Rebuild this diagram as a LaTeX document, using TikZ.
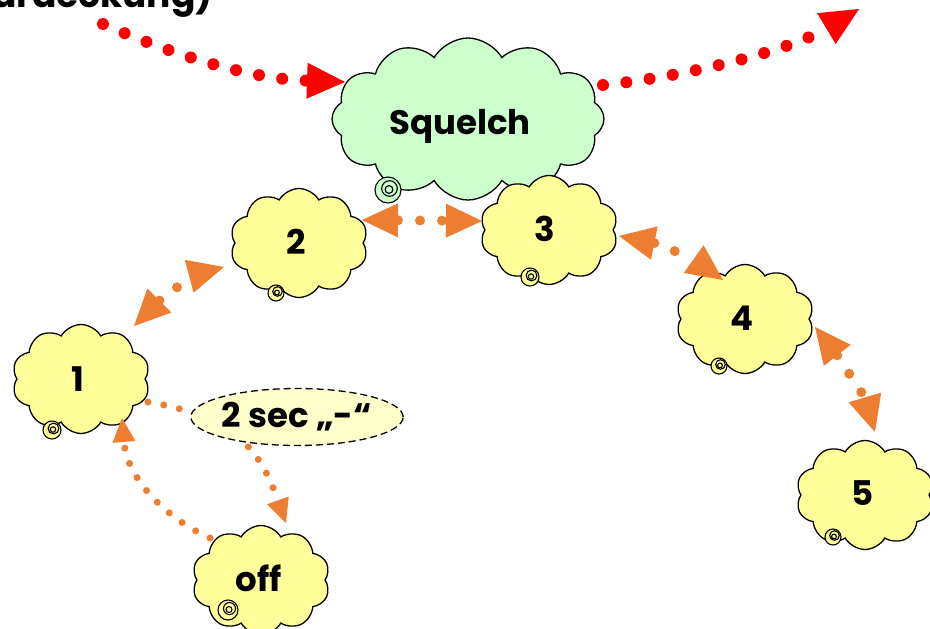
\documentclass[tikz,border=0pt]{standalone}
\usepackage{fontspec}
\setmainfont{Poppins}
\usetikzlibrary{shapes.symbols,shapes.geometric,arrows.meta,calc}
\definecolor{cloudyellow}{HTML}{FFFF99}
\definecolor{cloudgreen}{HTML}{CCFFCC}
\definecolor{lblfill}{HTML}{FFFFCC}
\definecolor{arrorange}{HTML}{ED7D31}
\definecolor{arrred}{HTML}{FF0000}
\newcommand{\mytail}[4]{%
  \draw[line width=1.1pt, fill=#4] (#1,#2) circle[radius=#3 pt];
  \draw[line width=1.1pt] ($(#1,#2)+(1.5,-1.5)$) circle[radius={0.6*#3 pt}];
  \draw[line width=1.1pt] ($(#1,#2)+(1,-0.5)$) circle[radius={0.3*#3 pt}];
}
\newcommand{\shifttext}[3]{\hspace*{#1}\raisebox{#2}{#3}}
\begin{document}
\begin{tikzpicture}[x=1pt,y=-1pt,
  cloudbox/.style={cloud, cloud ignores aspect, draw=black, line width=1.3pt, fill=cloudyellow,
     cloud puffs=10, cloud puff arc=120, minimum width=138pt, minimum height=109pt,
     inner sep=0pt, font=\bfseries\fontsize{34}{38}\selectfont},
  bigcloud/.style={cloudbox, fill=cloudgreen, cloud puffs=12, minimum width=272pt, minimum height=162pt,
     text height=33pt, text depth=3pt},
  redline/.style={draw=arrred, line width=12pt, line cap=round, dash pattern=on 0pt off 23.5pt,
     -{Triangle[length=38pt,width=36pt,line width=0pt]}},
  orline/.style={draw=arrorange, line width=10pt, line cap=round, dash pattern=on 0pt off 22pt,
     {Triangle[length=36pt,width=34pt,line width=0pt]}-{Triangle[length=36pt,width=34pt,line width=0pt]}},
  thinor/.style={draw=arrorange, line width=7pt, line cap=round, dash pattern=on 0pt off 16pt,
     -{Triangle[length=24pt,width=23pt,line width=0pt]}},
  lblbox/.style={ellipse, draw=black, dashed, dash pattern=on 7pt off 4pt, line width=1.3pt, fill=lblfill,
     minimum width=206pt, minimum height=57pt, inner sep=0pt, font=\bfseries\fontsize{34}{38}\selectfont}
]
\useasboundingbox (0,0) rectangle (930,629);
\clip (0,0) rectangle (930,629);

% partly cut heading at the top
\node[anchor=base east, inner sep=0pt, font=\bfseries\fontsize{36}{40}\selectfont] (head) at (213,8) {ardeckung)};

% clouds
\node[bigcloud] (sq) at (468,119) {\shifttext{-16pt}{0pt}{Squelch}};
\node[cloudbox] (c2) at (299,243) {\shifttext{-6pt}{2pt}{2}};
\node[cloudbox] (c3) at (549,230) {\shifttext{-8pt}{3pt}{3}};
\node[cloudbox] (c4) at (745,319) {\shifttext{-6pt}{2pt}{4}};
\node[cloudbox] (c1) at (81,379) {\shifttext{-6pt}{0pt}{1}};
\node[cloudbox] (c5) at (865,495) {\shifttext{-4pt}{3pt}{5}};
\node[cloudbox] (off) at (261,580) {\shifttext{-4pt}{3pt}{off}};

% thought-bubble tails
\mytail{388}{190}{13}{cloudgreen}
\mytail{276}{293}{8}{cloudyellow}
\mytail{530}{277}{9}{cloudyellow}
\mytail{719}{366}{8}{cloudyellow}
\mytail{52}{430}{9}{cloudyellow}
\mytail{833}{537}{8}{cloudyellow}
\mytail{228}{610}{10}{cloudyellow}

% free ends of the red arrows
\coordinate (rstart) at (103,24);
\coordinate (rend) at (859,9);

% red arrows
\draw[redline] (rstart) .. controls +(80,35) and +(-90,-3) .. ($(sq.center)+(-123,-37)$);
\draw[redline] ($(sq.center)+(135,-34)$) .. controls +(80,-8) and +(-70,42) .. (rend);

% orange arrows
\draw[orline] ($(c1.center)+(53,-53)$) .. controls +(25,-25) and +(-30,8) .. ($(c2.center)+(-75,24)$);
\draw[orline] ($(c2.center)+(63,-23)$) -- ($(c3.center)+(-67,-9)$);
\draw[orline] ($(c3.center)+(70,6)$) .. controls +(40,8) and +(-28,-20) .. ($(c4.center)+(-22,-39)$);
\draw[orline] ($(c4.center)+(70,8)$) .. controls +(22,28) and +(-10,-34) .. ($(c5.center)+(10,-63)$);
\draw[thinor] ($(c1.center)+(67,23)$) .. controls +(90,15) and +(-25,-70) .. ($(off.center)+(25,-57)$);
\draw[thinor] ($(off.center)+(-51,-42)$) .. controls +(-45,-20) and +(5,60) .. ($(c1.center)+(41,39)$);

% label on the 1 -> off connector
\node[lblbox] (lbl) at (297,417) {2 sec „-“};
\end{tikzpicture}
\end{document}
